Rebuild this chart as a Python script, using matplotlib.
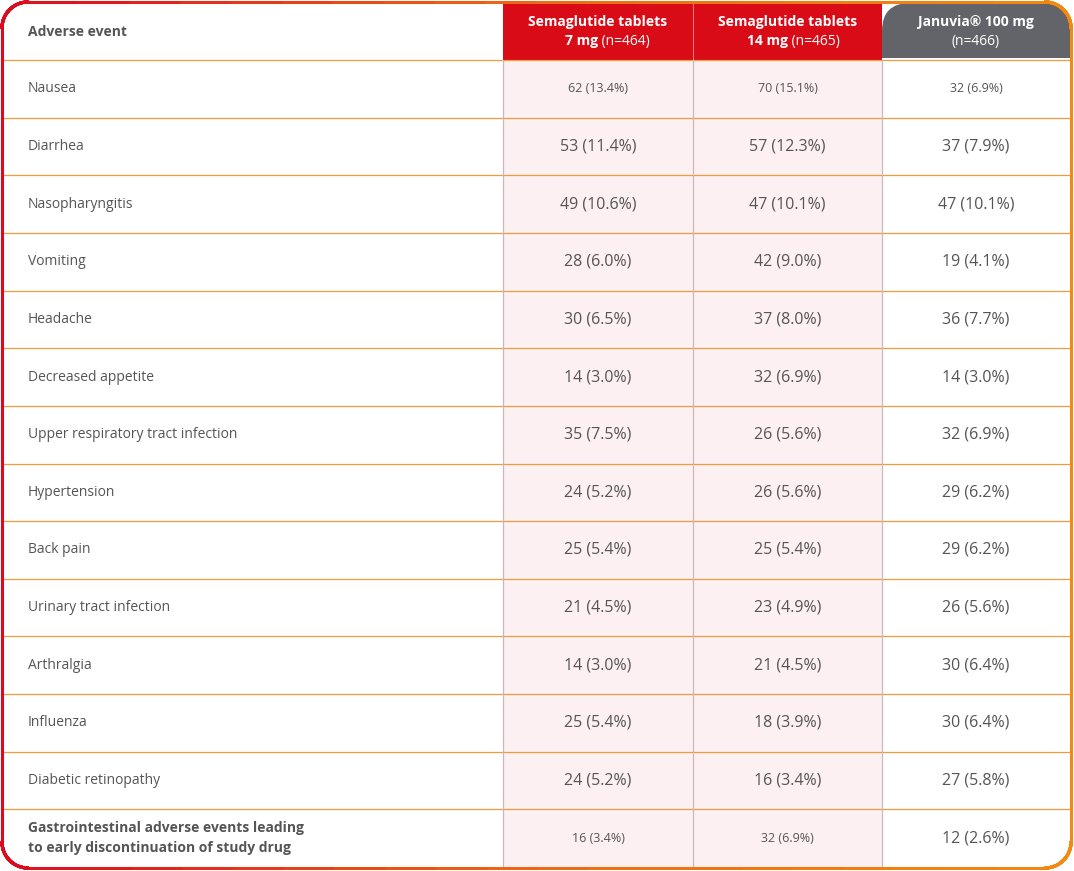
import numpy as np
import matplotlib
matplotlib.use('Agg')
import matplotlib.pyplot as plt
from matplotlib.patches import Rectangle, FancyBboxPatch
from matplotlib.collections import LineCollection
from matplotlib.colors import LinearSegmentedColormap

# --- DATA ---
events = ["Nausea", "Diarrhea", "Nasopharyngitis", "Vomiting", "Headache",
          "Decreased appetite", "Upper respiratory tract infection", "Hypertension",
          "Back pain", "Urinary tract infection", "Arthralgia", "Influenza",
          "Diabetic retinopathy",
          "Gastrointestinal adverse events leading\nto early discontinuation of study drug"]
sema7 = ["62 (13.4%)", "53 (11.4%)", "49 (10.6%)", "28 (6.0%)", "30 (6.5%)", "14 (3.0%)",
         "35 (7.5%)", "24 (5.2%)", "25 (5.4%)", "21 (4.5%)", "14 (3.0%)", "25 (5.4%)",
         "24 (5.2%)", "16 (3.4%)"]
sema14 = ["70 (15.1%)", "57 (12.3%)", "47 (10.1%)", "42 (9.0%)", "37 (8.0%)", "32 (6.9%)",
          "26 (5.6%)", "26 (5.6%)", "25 (5.4%)", "23 (4.9%)", "21 (4.5%)", "18 (3.9%)",
          "16 (3.4%)", "32 (6.9%)"]
januvia = ["32 (6.9%)", "37 (7.9%)", "47 (10.1%)", "19 (4.1%)", "36 (7.7%)", "14 (3.0%)",
           "32 (6.9%)", "29 (6.2%)", "29 (6.2%)", "26 (5.6%)", "30 (6.4%)", "30 (6.4%)",
           "27 (5.8%)", "12 (2.6%)"]
small_rows = [0, 13]

# --- LAYOUT (pixels) ---
W, H = 1074, 871
col_x = [3, 503, 693, 882, 1070]
top, head_bot, bottom = 3, 60, 867
row_h = (bottom - head_bot) / len(events)

TXT = "#555555"
RED = "#d90b16"
GREY = "#636469"
PINK = "#fcf0f2"
ORANGE = "#f39a3a"
FONT = "Open Sans"

fig = plt.figure(figsize=(W / 100, H / 100), dpi=100)
ax = fig.add_axes([0, 0, 1, 1])
ax.set_xlim(0, W)
ax.set_ylim(H, 0)
ax.axis('off')

# header cells
ax.add_patch(Rectangle((col_x[1], top), col_x[3] - col_x[1], head_bot - top, color=RED, lw=0))
ax.add_patch(FancyBboxPatch((col_x[3], top), col_x[4] - col_x[3], head_bot - top + 30,
                            boxstyle="round,pad=0,rounding_size=28", color=GREY, lw=0))
ax.add_patch(Rectangle((col_x[3], head_bot - 2), col_x[4] - col_x[3], 40, color="white", lw=0))
ax.plot([col_x[2]] * 2, [top, head_bot], color="#e8777d", lw=0.8)

# pink body columns
ax.add_patch(Rectangle((col_x[1], head_bot), col_x[3] - col_x[1], bottom - head_bot, color=PINK, lw=0))

# grid lines
for i in range(len(events)):
    y = head_bot + i * row_h
    ax.plot([col_x[0], col_x[4]], [y, y], color=ORANGE, lw=0.9)
for x in col_x[1:4]:
    ax.plot([x, x], [head_bot, bottom], color="#c9b9bd", lw=0.9)

# header text
hx = [(col_x[i] + col_x[i + 1]) / 2 for i in range(4)]
ax.text(28, (top + head_bot) / 2, "Adverse event", ha='left', va='center',
        fontsize=10, fontweight='bold', color=TXT, family=FONT)
for cx, l1, l2b, l2n in [(hx[1], "Semaglutide tablets", "7 mg", " (n=464)"),
                         (hx[2], "Semaglutide tablets", "14 mg", " (n=465)")]:
    ax.text(cx, 22, l1, ha='center', va='center', fontsize=10, fontweight='bold',
            color="white", family=FONT)
    ax.text(cx, 41, l2b + r"$\,$" if False else l2b + "          ", ha='center', va='center',
            fontsize=10, fontweight='bold', color="white", family=FONT, alpha=0)
    t = ax.text(cx, 41, l2b, ha='right', va='center', fontsize=10, fontweight='bold',
                color="white", family=FONT)
    ax.text(cx, 41, l2n, ha='left', va='center', fontsize=10, color="white", family=FONT)
ax.text(hx[3], 22, "Januvia® 100 mg", ha='center', va='center', fontsize=10,
        fontweight='bold', color="white", family=FONT)
ax.text(hx[3], 41, "(n=466)", ha='center', va='center', fontsize=10, color="white", family=FONT)

# body text
for i, ev in enumerate(events):
    cy = head_bot + (i + 0.5) * row_h
    last = i == len(events) - 1
    ax.text(28, cy, ev, ha='left', va='center', fontsize=10, color=TXT, family=FONT,
            fontweight='bold' if last else 'normal', linespacing=1.5)
    for j, vals in enumerate([sema7, sema14, januvia]):
        fs = 9 if (i in small_rows and j < 2) or (i == 0) else 11.5
        ax.text(hx[j + 1], cy, vals[i], ha='center', va='center', fontsize=fs,
                color=TXT, family=FONT)

# gradient rounded border
r = 26
x0, x1, y0, y1 = 2, W - 3, 2, H - 3
pts = []
def arc(cx, cy, a0, a1):
    for a in np.linspace(a0, a1, 30):
        pts.append((cx + r * np.cos(a), cy + r * np.sin(a)))
arc(x0 + r, y0 + r, np.pi, 1.5 * np.pi)
arc(x1 - r, y0 + r, 1.5 * np.pi, 2 * np.pi)
arc(x1 - r, y1 - r, 0, 0.5 * np.pi)
arc(x0 + r, y1 - r, 0.5 * np.pi, np.pi)
pts.append(pts[0])
pts = np.array(pts)
dense = []
for a, b in zip(pts[:-1], pts[1:]):
    for t in np.linspace(0, 1, 20, endpoint=False):
        dense.append(a + (b - a) * t)
dense.append(pts[-1])
dense = np.array(dense)
segs = np.stack([dense[:-1], dense[1:]], axis=1)
cmap = LinearSegmentedColormap.from_list("brd", ["#dc0a1e", "#ee6a16", "#f28a10"])
lc = LineCollection(segs, cmap=cmap, linewidths=2.2, capstyle='round')
lc.set_array(segs[:, :, 0].mean(axis=1) / W)
lc.set_clim(0, 1)
ax.add_collection(lc)

fig.savefig("out.png", dpi=100)
